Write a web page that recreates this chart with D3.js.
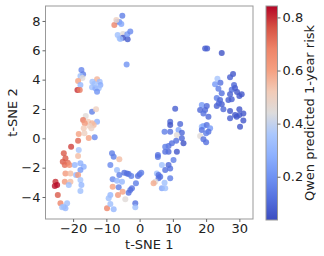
<!DOCTYPE html>
<html><head><meta charset="utf-8">
<script src="https://cdn.jsdelivr.net/npm/d3@7"></script>
<style>body{margin:0;background:#fff}svg{display:block}text{font-family:"DejaVu Sans",sans-serif}</style>
</head><body><svg id="c" width="324" height="256"></svg>
<script>
const tsne1 = [-5.2,-6.8,-6.1,-5.5,-7.6,-7.0,-6.6,-6.0,-5.0,-5.0,-3.6,-3.7,-2.8,-3.9,-5.8,
-17.5,-17.0,-17.8,-17.2,-18.5,-17.8,-18.7,-18.0,
-12.8,-14.2,-12.0,-11.8,-14.3,-13.3,-12.3,-12.8,-13.6,
10.7,9.2,12.2,
-14.3,-13.1,-16.2,-17.0,-15.5,-12.8,-14.3,-13.8,-15.1,-16.5,-14.5,-16.8,-18.3,-16.6,-15.3,-13.5,
-18.5,-20.6,-18.3,-22.8,-22.3,-23.1,-21.6,-22.5,-21.1,-19.5,-17.8,-18.5,-16.8,-17.8,-22.3,-20.8,-19.1,-18.5,
-25.3,-24.8,-25.5,-22.5,-20.8,-21.3,-17.8,-17.5,-17.8,-24.6,-23.8,-22.8,-21.8,-22.3,-23.3,
-8.3,-7.8,-8.8,-6.1,-6.8,-6.1,-4.6,-3.8,-3.3,-2.5,-0.5,0.0,0.5,-8.1,-6.8,-8.1,-6.3,-5.1,-6.5,-4.3,
-3.3,-2.8,-2.3,-1.1,-8.8,-9.3,-1.3,-1.3,-9.8,-7.8,-8.8,-5.3,
9.2,7.5,9.2,11.7,12.7,11.2,12.7,11.0,13.2,9.7,8.7,7.7,8.7,11.2,7.7,5.5,5.5,10.2,8.7,6.7,7.7,9.2,
5.2,5.7,5.7,9.2,4.7,7.5,4.2,6.7,7.7,6.2,
19.7,20.3,24.7,28.1,27.2,23.4,22.7,24.3,23.7,28.4,27.7,28.7,29.3,24.7,23.2,27.2,30.0,30.7,27.7,24.2,
18.7,20.2,23.2,24.7,25.2,18.2,19.7,27.2,30.0,26.7,23.8,31.2,30.0,27.2,31.2,30.2,29.2,19.2,20.7,28.7,
18.7,19.2,20.2,21.2,18.7,20.7,20.0,18.2,19.2,20.0];
const tsne2 = [8.36,7.95,7.93,7.79,7.72,8.06,7.04,6.82,7.11,6.86,6.75,7.09,7.29,5.04,6.77,
4.66,4.36,4.25,4.11,3.91,3.63,3.29,3.29,
4.02,3.86,3.86,3.63,3.48,3.41,3.41,3.18,3.70,
2.02,1.13,0.97,
1.81,1.98,1.52,1.25,1.13,1.13,1.02,0.91,0.86,1.02,0.68,0.68,0.29,0.34,0.02,0.07,
-0.16,-0.57,-0.80,-1.02,-1.36,-1.60,-1.66,-1.82,-1.82,-1.82,-1.70,-1.21,-1.94,-2.16,-2.39,-2.39,-2.50,-2.50,
-2.96,-3.18,-3.25,-2.96,-2.96,-3.18,-2.84,-3.18,-3.59,-3.87,-4.43,-4.66,-4.43,-4.77,-4.70,
-1.02,-1.25,-1.82,-1.43,-2.16,-2.50,-2.34,-2.39,-2.43,-2.57,-2.57,-2.45,-2.34,-2.79,-2.89,-3.30,-3.34,-3.64,-3.87,-4.16,
-3.71,-3.52,-3.41,-3.07,-3.87,-4.09,-4.43,-4.70,-4.77,-4.84,-4.48,-2.96,
0.91,0.45,0.45,0.57,0.38,0.22,0.0,-0.16,-0.34,-0.34,-0.52,-0.57,-0.91,-0.91,-0.91,-1.14,-1.27,-1.48,-1.82,-1.82,-2.16,-2.05,
-2.39,-2.50,-2.73,-2.73,-2.96,-3.03,-3.07,-3.41,-3.41,-2.62,
6.13,6.13,5.81,4.38,4.16,4.06,3.68,3.79,3.38,3.63,3.31,3.43,3.16,3.07,2.75,3.00,2.88,3.00,2.66,2.61,
2.27,2.20,2.20,2.32,1.98,1.93,1.93,1.86,1.98,2.61,2.39,1.70,1.59,1.36,1.21,0.79,1.47,1.70,1.47,1.59,
0.79,0.84,0.91,0.68,0.57,0.45,0.34,0.16,-0.07,-0.27];
const risk = [0.15,0.30,0.20,0.25,0.68,0.50,0.33,0.35,0.45,0.05,0.07,0.22,0.18,0.20,0.33,
0.17,0.15,0.33,0.45,0.60,0.30,0.80,0.70,
0.57,0.33,0.32,0.27,0.33,0.27,0.33,0.20,0.33,
0.08,0.10,0.10,
0.15,0.50,0.45,0.70,0.52,0.28,0.57,0.55,0.50,0.62,0.50,0.52,0.60,0.50,0.60,0.18,
0.73,0.78,0.35,0.75,0.75,0.75,0.72,0.72,0.65,0.30,0.28,0.55,0.28,0.22,0.62,0.55,0.30,0.62,
0.80,0.84,0.83,0.62,0.55,0.33,0.35,0.30,0.33,0.75,0.68,0.33,0.33,0.30,0.33,
0.15,0.15,0.18,0.55,0.33,0.15,0.12,0.12,0.12,0.15,0.12,0.12,0.15,0.18,0.30,0.60,0.15,0.60,0.62,0.45,
0.12,0.12,0.12,0.15,0.30,0.33,0.12,0.33,0.68,0.30,0.33,0.30,
0.05,0.15,0.12,0.25,0.10,0.45,0.10,0.12,0.05,0.12,0.12,0.15,0.10,0.06,0.12,0.12,0.12,0.15,0.10,0.33,0.12,0.12,
0.33,0.12,0.12,0.15,0.45,0.33,0.58,0.25,0.33,0.12,
0.08,0.08,0.05,0.06,0.08,0.35,0.22,0.12,0.15,0.10,0.12,0.08,0.06,0.12,0.15,0.08,0.06,0.06,0.08,0.10,
0.22,0.10,0.08,0.08,0.10,0.10,0.10,0.06,0.06,0.08,0.10,0.06,0.06,0.08,0.06,0.06,0.06,0.12,0.10,0.06,
0.30,0.25,0.12,0.22,0.12,0.12,0.15,0.45,0.12,0.12];
const xTicks = [-20,-10,0,10,20,30];
const yTicks = [-4,-2,0,2,4,6,8];
const cTicks = [0.2,0.4,0.6,0.8];
const coolwarmStops = ["#3b4cc0","#5470de","#6f92f3","#8db0fe","#aac7fd","#dddcdc","#f2cbb7","#f5a081","#ee8468","#d65244","#b40426"];

const svg = d3.select("#c");
const L=45.5,R=253,T=6,B=219;
const x = d3.scaleLinear().domain([-28.3,34.1]).range([L,R]);
const y = d3.scaleLinear().domain([-5.5,9.02]).range([B,T]);
const cmap = d3.scaleLinear().domain(coolwarmStops.map((d,i)=>i/(coolwarmStops.length-1))).range(coolwarmStops).interpolate(d3.interpolateRgb);
const cnorm = d3.scaleLinear().domain([0.037,0.843]).range([0,1]).clamp(true);
const col = v => cmap(cnorm(v));

const data = tsne1.map((d,i)=>({x:d,y:tsne2[i],v:risk[i]}));
svg.append("g").selectAll("circle").data(data).join("circle")
  .attr("cx",d=>x(d.x)).attr("cy",d=>y(d.y)).attr("r",3)
  .attr("fill",d=>col(d.v)).attr("fill-opacity",0.8);

const spine="#999";
svg.append("rect").attr("x",L).attr("y",T).attr("width",R-L).attr("height",B-T).attr("fill","none").attr("stroke",spine).attr("stroke-width",1);

const xa = svg.append("g").attr("transform",`translate(0,${B})`).call(d3.axisBottom(x).tickValues(xTicks).tickSize(3).tickPadding(2).tickFormat(d=>d<0?"\u2212"+(-d):d));
const ya = svg.append("g").attr("transform",`translate(${L},0)`).call(d3.axisLeft(y).tickValues(yTicks).tickSize(3).tickPadding(2).tickFormat(d=>d<0?"\u2212"+(-d):d));
[xa,ya].forEach(a=>{a.select(".domain").remove();a.selectAll("line").attr("stroke","#666");a.selectAll("text").attr("font-size",13).attr("fill","#222").attr("font-family","DejaVu Sans");});

svg.append("text").attr("x",(L+R)/2).attr("y",249).attr("text-anchor","middle").attr("font-size",13).attr("fill","#222").text("t-SNE 1");
svg.append("text").attr("transform",`translate(17,${(T+B)/2}) rotate(-90)`).attr("text-anchor","middle").attr("font-size",13).attr("fill","#222").text("t-SNE 2");

// colorbar
const cx0=266,cw=11.5,ct=6,cb=220;
const grad = svg.append("defs").append("linearGradient").attr("id","cg").attr("x1",0).attr("y1",1).attr("x2",0).attr("y2",0);
coolwarmStops.forEach((c,i)=>grad.append("stop").attr("offset",i/(coolwarmStops.length-1)).attr("stop-color",c));
svg.append("rect").attr("x",cx0).attr("y",ct).attr("width",cw).attr("height",cb-ct).attr("fill","url(#cg)").attr("stroke",spine).attr("stroke-width",1);
const cy = d3.scaleLinear().domain([0.037,0.843]).range([cb,ct]);
const ca = svg.append("g").attr("transform",`translate(${cx0+cw},0)`).call(d3.axisRight(cy).tickValues(cTicks).tickSize(3).tickPadding(2).tickFormat(d3.format(".1f")));
ca.select(".domain").remove();ca.selectAll("line").attr("stroke","#666");
ca.selectAll("text").attr("font-size",13).attr("fill","#222").attr("font-family","DejaVu Sans");
svg.append("text").attr("transform",`translate(314,${(ct+cb)/2}) rotate(-90)`).attr("text-anchor","middle").attr("font-size",13).attr("fill","#222").text("Qwen predicted 1-year risk");
</script></body></html>
